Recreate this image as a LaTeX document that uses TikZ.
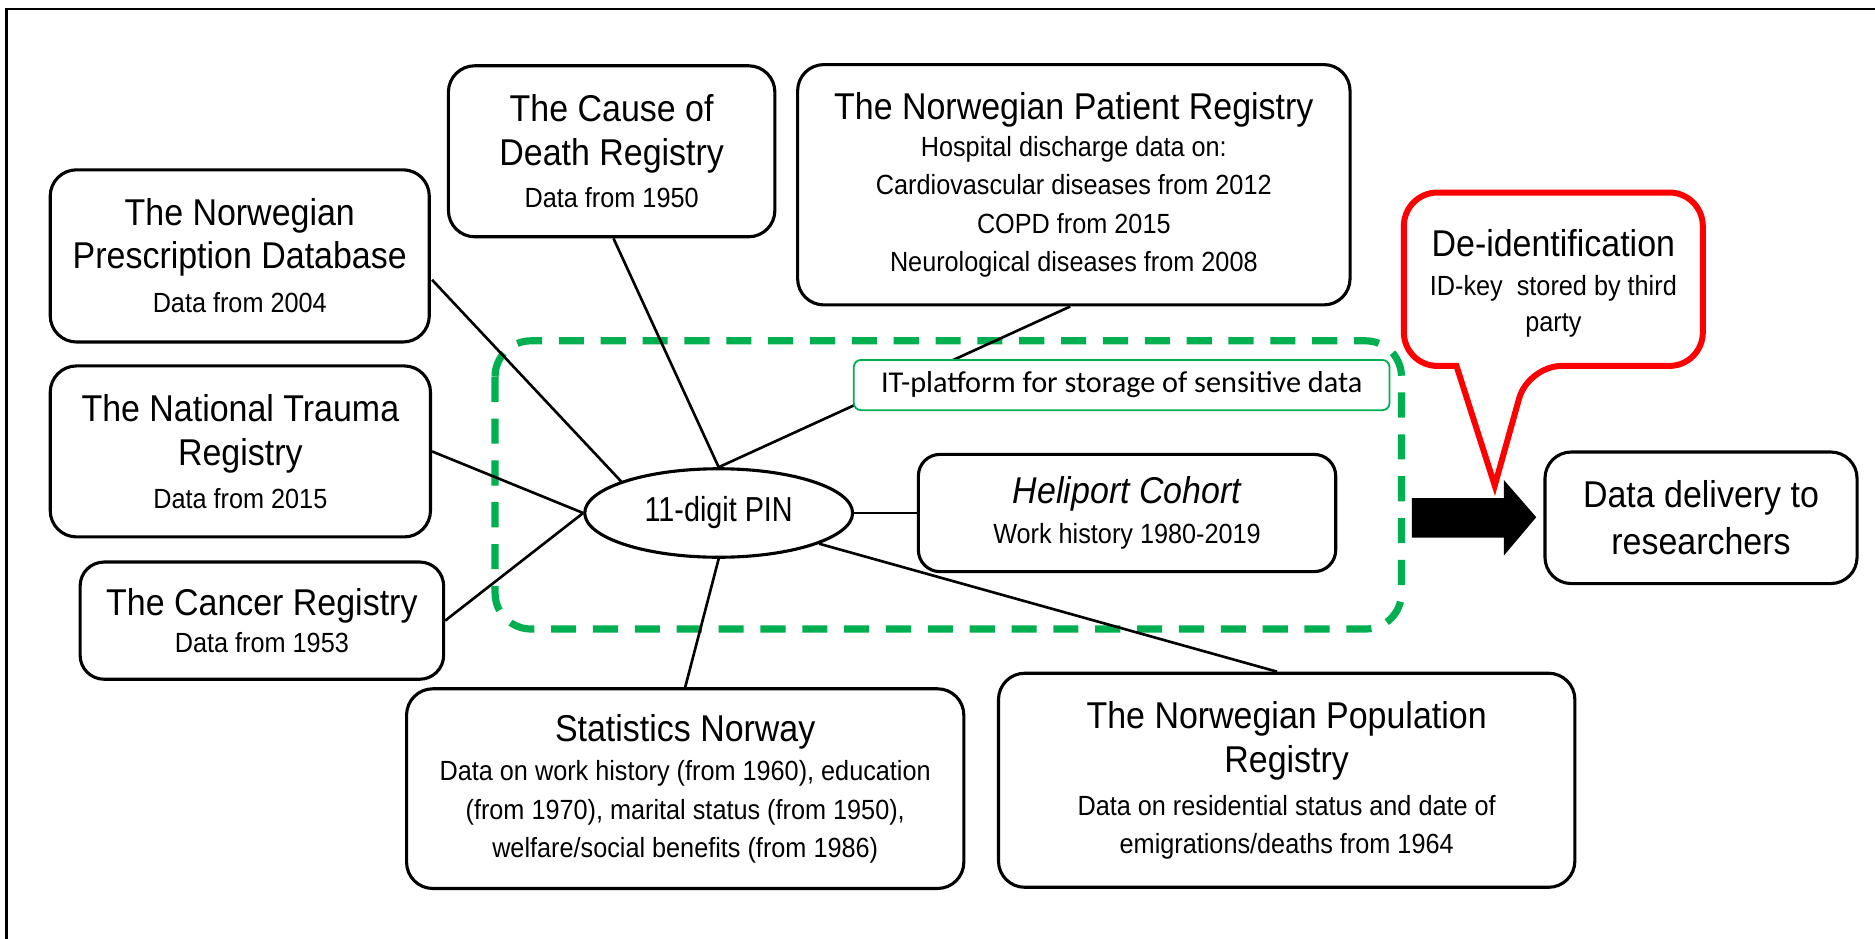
\documentclass[tikz,border=0pt]{standalone}
\usepackage{fontspec}
\setmainfont[FakeStretch=0.91]{Liberation Sans}
\newfontfamily\pinfont[FakeStretch=0.83]{Liberation Sans}
\newfontfamily\calfont{Carlito}
\usetikzlibrary{calc,shapes.geometric}
\definecolor{itgreen}{HTML}{00B050}
\definecolor{calred}{HTML}{FF0000}
\newcommand\ttl{\fontsize{31.2}{36}\selectfont}
\newcommand\sbt{\fontsize{23.2}{31}\selectfont}
\pgfdeclarelayer{bg}
\pgfsetlayers{bg,main}
\begin{document}
\begin{tikzpicture}[x=1pt,y=-1pt,
  box/.style={draw=black,line width=2.6pt,rounded corners=22pt,fill=white,align=center,inner sep=0pt,font=\sbt},
  link/.style={line width=2.2pt,draw=black}]
\useasboundingbox (0,0) rectangle (1568,785);
\draw[line width=2pt] (5.5,790) -- (5.5,7.5) -- (1572,7.5);

\node[box,minimum width=273pt,minimum height=143pt] (cause) at (511.5,126.5)
  {\ttl The Cause of\\[6pt]\ttl Death Registry\\[4pt]Data from 1950};
\node[box,minimum width=462pt,minimum height=201pt] (patient) at (898,154.5)
  {\ttl The Norwegian Patient Registry\\Hospital discharge data on:\\[1pt]Cardiovascular diseases from 2012\\[1pt]COPD from 2015\\[1pt]Neurological diseases from 2008};
\node[box,minimum width=317pt,minimum height=144pt] (presc) at (200.5,214)
  {\ttl The Norwegian\\[5pt]\ttl Prescription Database\\[6pt]Data from 2004};
\node[box,minimum width=318pt,minimum height=143pt] (trauma) at (201,377.5)
  {\ttl The National Trauma\\[6pt]\ttl Registry\\[5pt]Data from 2015};
\node[box,minimum width=304pt,minimum height=98pt,rounded corners=20pt] (cancer) at (219,519)
  {\ttl The Cancer Registry\\Data from 1953};
\node[box,minimum width=466pt,minimum height=167pt] (stats) at (573,659.5)
  {\ttl Statistics Norway\\[2pt]Data on work history (from 1960), education\\[1pt](from 1970), marital status (from 1950),\\[1pt]welfare/social benefits (from 1986)};
\node[box,minimum width=482pt,minimum height=179pt] (pop) at (1076,652.5)
  {\ttl The Norwegian Population\\[6pt]\ttl Registry\\[5pt]Data on residential status and date of\\[1pt]emigrations/deaths from 1964};
\node[box,minimum width=349pt,minimum height=98pt,rounded corners=18pt] (heli) at (942.5,429)
  {\ttl\itshape Heliport Cohort\\[2pt]Work history 1980-2019};
\node[box,minimum width=261pt,minimum height=110pt] (delivery) at (1422.5,433)
  {\ttl Data delivery to\\[8pt]\ttl researchers};
\node[draw=black,line width=2.6pt,ellipse,fill=white,minimum width=224pt,minimum height=74pt,inner sep=0pt,
  font=\pinfont\fontsize{29}{32}\selectfont] (pin) at (601,429) {11-digit PIN};
\node[draw=itgreen,line width=1.5pt,rounded corners=6pt,fill=white,minimum width=448pt,minimum height=42pt,inner sep=0pt,
  font=\calfont\fontsize{25.3}{28}\selectfont] (it) at (938,322) {IT-platform for storage of sensitive data};

% callout
\draw[calred,line width=5pt,fill=white,rounded corners=28pt]
  (1218,306) -- (1174,306) -- (1174,161) -- (1424,161) -- (1424,306) -- (1278,306)
  [sharp corners] -- (1250,406) -- cycle;
\node[align=center,inner sep=0pt,font=\sbt] (deid) at (1299,237)
  {\ttl De-identification\\[1pt]ID-key\ \ stored by third\\[-1pt]party};

% big arrow
\coordinate (atip) at ($(delivery.west)+(-6,-0.5)$);
\fill[black] (atip) -- ++(-27,-31) -- ++(0,15) -- ++(-77,0) -- ++(0,33) -- ++(77,0) -- ++(0,15) -- cycle;

\begin{pgfonlayer}{bg}
\draw[itgreen,line width=6pt,dash pattern=on 21pt off 14pt,rounded corners=30pt] (414,285) rectangle (1172,526);
\draw[link] ($(presc.east)+(1,20)$) -- (pin.162);
\draw[link] ($(cause.south)+(1.5,0)$) -- (pin.north);
\draw[link] ($(patient.south)+(-3,0)$) -- (pin.north);
\draw[link] (trauma.east) -- (pin.west);
\draw[link] (cancer.east) -- (pin.west);
\draw[link] (stats.north) -- (pin.south);
\draw[link] ($(pop.north)+(-8,0)$) -- (pin.343);
\draw[link] (pin.east) -- (heli.west);
\end{pgfonlayer}
\end{tikzpicture}
\end{document}
